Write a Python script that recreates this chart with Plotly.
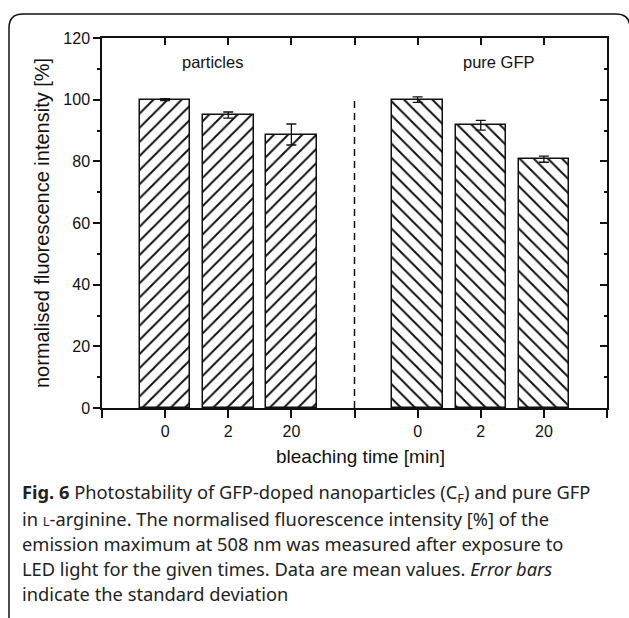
import plotly.graph_objects as go

# ---- data ----
categories = ["0", "2", "20"]
group_labels = ["particles", "pure GFP"]
particles_pos = [1, 2, 3]
particles_vals = [100.0, 95.0, 88.7]
particles_err = [0.3, 1.0, 3.4]
gfp_pos = [5, 6, 7]
gfp_vals = [100.0, 91.7, 80.7]
gfp_err = [0.9, 1.6, 1.0]
xtick_pos = particles_pos + gfp_pos
xtick_text = categories + categories
xsep_pos = [0, 4, 8]
ytick_vals = [0, 20, 40, 60, 80, 100, 120]

W, H = 629, 618
ML, MR, MT, MB = 102, 22, 38, 210
PW, PH = W - ML - MR, H - MT - MB


def px(xp):
    return (xp - ML) / PW


def py(yp):
    return (H - MB - yp) / PH


FONT = "Liberation Sans, Arial, sans-serif"
CAP_FONT = "Noto Sans, sans-serif"
INK = "#111111"

fig = go.Figure()

for pos, vals, errs, shape in [
    (particles_pos, particles_vals, particles_err, "/"),
    (gfp_pos, gfp_vals, gfp_err, "\\"),
]:
    fig.add_trace(go.Bar(
        x=pos, y=vals, width=0.8,
        marker=dict(color="white",
                    line=dict(color=INK, width=1.5),
                    pattern=dict(shape=shape, fgcolor=INK, bgcolor="white",
                                 size=10, solidity=0.2, fillmode="replace")),
        error_y=dict(type="data", array=errs, visible=True, color=INK,
                     thickness=1.3, width=5),
        showlegend=False, hoverinfo="skip",
    ))

# dummy trace for mirrored axes (top/right, ticks inside)
fig.add_trace(go.Scatter(x=[None], y=[None], xaxis="x2", yaxis="y2",
                         showlegend=False, hoverinfo="skip"))

axis_common = dict(showgrid=False, zeroline=False, showline=True,
                   linecolor=INK, linewidth=1.5, tickcolor=INK, tickwidth=1.5)

fig.update_layout(
    width=W, height=H,
    margin=dict(l=ML, r=MR, t=MT, b=MB),
    paper_bgcolor="white", plot_bgcolor="white",
    font=dict(family=FONT, color=INK, size=16),
    bargap=0,
    xaxis=dict(range=[0, 8], tickvals=xtick_pos, ticktext=xtick_text,
               ticks="outside", ticklen=8, tickfont=dict(size=16),
               minor=dict(tickvals=xsep_pos, ticks="outside", ticklen=8,
                          tickcolor=INK, tickwidth=1.5),
               **axis_common),
    yaxis=dict(range=[0, 120], tickvals=ytick_vals, ticks="outside",
               ticklen=7, tickfont=dict(size=16),
               minor=dict(ticks="outside", ticklen=3, dtick=10, tick0=0,
                          tickcolor=INK, tickwidth=1.5),
               **axis_common),
    xaxis2=dict(range=[0, 8], overlaying="x", side="top", anchor="y",
                tickvals=[1, 2, 3, 4, 5, 6, 7], ticks="inside", ticklen=7,
                showticklabels=False, **axis_common),
    yaxis2=dict(range=[0, 120], overlaying="y", side="right", anchor="x",
                tickvals=ytick_vals, ticks="inside", ticklen=7,
                showticklabels=False,
                minor=dict(ticks="inside", ticklen=3, dtick=10, tick0=0,
                           tickcolor=INK, tickwidth=1.5),
                **axis_common),
)

# divider
fig.add_shape(type="line", x0=4, x1=4, y0=0, y1=100, xref="x", yref="y",
              line=dict(color=INK, width=1.5, dash="7px,5px"))

# group labels
for xg, lab in zip([1.75, 6.29], group_labels):
    fig.add_annotation(x=xg, y=112.3, xref="x", yref="y", text=lab,
                       xanchor="center", yanchor="middle",
                       showarrow=False, font=dict(size=16.5, family=FONT, color=INK))

# axis titles
fig.add_annotation(x=px(42), y=py(223), xref="paper", yref="paper",
                   xanchor="center", yanchor="middle",
                   text="normalised fluorescence intensity [%]", textangle=-90,
                   showarrow=False, font=dict(size=20, family=FONT, color=INK))
fig.add_annotation(x=px(360), y=py(456), xref="paper", yref="paper",
                   xanchor="center", yanchor="middle",
                   text="bleaching time [min]", showarrow=False,
                   font=dict(size=19, family=FONT, color=INK))

# caption
caption_lines = [
    "<b>Fig. 6</b> Photostability of GFP-doped nanoparticles (C<sub>F</sub>) and pure GFP",
    "in <span style='font-size:13px'>L</span>-arginine. The normalised fluorescence intensity [%] of the",
    "emission maximum at 508 nm was measured after exposure to",
    "LED light for the given times. Data are mean values. <i>Error bars</i>",
    "indicate the standard deviation",
]
for i, line in enumerate(caption_lines):
    fig.add_annotation(x=px(20), y=py(493 + 25 * i), xref="paper", yref="paper",
                       xanchor="left", yanchor="middle", align="left",
                       text=line, showarrow=False,
                       font=dict(size=18.3, family=CAP_FONT, color="#222222"))

# rounded frame
path = (f"M {px(9)},{py(640)} L {px(9)},{py(28)} "
        f"Q {px(9)},{py(14)} {px(23)},{py(14)} "
        f"L {px(616)},{py(14)} Q {px(630)},{py(14)} {px(630)},{py(28)} "
        f"L {px(630)},{py(640)}")
fig.add_shape(type="path", path=path, xref="paper", yref="paper",
              line=dict(color=INK, width=1.5))

fig.write_html("out.html",
               config={"displayModeBar": False},
               post_script="document.body.style.margin='0';"
                           "document.body.style.overflow='hidden';")
